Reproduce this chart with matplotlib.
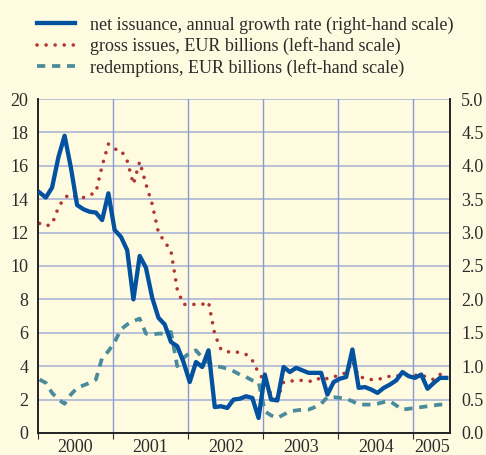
import numpy as np
import matplotlib
matplotlib.use("Agg")
import matplotlib.pyplot as plt

# monthly data, Jan 2000 - Jun 2005
net_growth = [14.4, 14.1, 14.7, 16.5, 17.8, 15.9, 13.65, 13.4, 13.25, 13.2, 12.75, 14.35,
              12.15, 11.75, 10.95, 8.0, 10.6, 9.9, 8.1, 6.9, 6.5, 5.45, 5.2, 4.25,
              3.05, 4.25, 3.95, 4.95, 1.55, 1.6, 1.5, 2.0, 2.05, 2.2, 2.1, 0.9,
              3.5, 2.0, 1.95, 3.95, 3.65, 3.9, 3.75, 3.6, 3.6, 3.6, 2.3, 3.05,
              3.25, 3.35, 5.0, 2.7, 2.75, 2.6, 2.4, 2.7, 2.9, 3.15, 3.65, 3.4,
              3.3, 3.5, 2.65, 3.0, 3.3, 3.3]
net_growth = [v / 4 for v in net_growth]

gross_issues = [12.55, 12.4, 12.5, 13.5, 14.1, 14.3, 14.1, 14.1, 14.25, 14.4, 16.0, 17.3,
                17.0, 16.95, 16.3, 14.9, 16.25, 14.9, 13.7, 12.0, 11.45, 10.9, 8.6, 7.7,
                7.7, 7.7, 7.7, 7.85, 5.9, 5.0, 4.85, 4.9, 4.8, 4.7, 4.35, 3.6,
                3.1, 2.3, 2.05, 3.05, 3.1, 3.15, 3.15, 3.1, 3.1, 3.35, 3.25, 3.35,
                3.5, 3.6, 4.3, 3.35, 3.3, 3.2, 3.2, 3.3, 3.4, 3.4, 3.5, 3.45,
                3.45, 3.5, 3.3, 3.2, 3.5, 3.65]

redemptions = [3.2, 3.0, 2.4, 2.0, 1.75, 2.3, 2.7, 2.85, 3.0, 3.2, 4.5, 4.9,
               5.45, 6.2, 6.5, 6.7, 6.85, 5.95, 5.9, 5.95, 5.95, 6.05, 4.0, 4.5,
               4.8, 4.95, 4.5, 4.2, 4.0, 3.95, 3.85, 3.7, 3.5, 3.35, 3.15, 3.05,
               1.3, 1.05, 0.9, 1.1, 1.3, 1.35, 1.4, 1.4, 1.55, 1.75, 2.15, 2.15,
               2.1, 2.05, 1.9, 1.7, 1.7, 1.7, 1.75, 1.85, 1.9, 1.65, 1.4, 1.45,
               1.5, 1.55, 1.6, 1.65, 1.7, 1.7]

years = ["2000", "2001", "2002", "2003", "2004", "2005"]

bg = "#fefbe0"
blue = "#0352a0"
red = "#b3362f"
teal = "#4a8c9c"
txt = "#2b2b2b"

plt.rcParams["font.family"] = ["Liberation Serif", "DejaVu Serif"]
plt.rcParams["font.size"] = 13

months = np.arange(len(net_growth))

fig = plt.figure(figsize=(4.86, 4.55), dpi=100, facecolor=bg)
ax = fig.add_axes([0.0782, 0.0484, 0.8478, 0.734], facecolor=bg)
ax2 = ax.twinx()

# grid
for v in range(0, 21, 2):
    ax.axhline(v, color="#b3bbd6", lw=1.3, zorder=0)
year_edges = [11.75, 23.75, 35.75, 47.75, 59.75]
for e in year_edges:
    ax.axvline(e, color="#8a9ad4", lw=1.0, zorder=0)

l2, = ax.plot(months, gross_issues, color=red, lw=2.6,
              linestyle=(0, (0.01, 2.5)), dash_capstyle="round",
              label="gross issues, EUR billions (left-hand scale)", zorder=3)
l3, = ax.plot(months, redemptions, color=teal, lw=2.7,
              linestyle=(0, (2.2, 1.8)),
              label="redemptions, EUR billions (left-hand scale)", zorder=3)
l1, = ax2.plot(months, net_growth, color=blue, lw=3.1,
               label="net issuance, annual growth rate (right-hand scale)", zorder=4)

ax.set_xlim(-0.25, 65.6)
ax.set_ylim(0, 20)
ax2.set_ylim(0, 5)
ax.set_yticks(range(0, 21, 2))
ax2.set_yticks(np.arange(0, 5.01, 0.5))
ax2.set_yticklabels([f"{v:.1f}" for v in np.arange(0, 5.01, 0.5)])

ax.set_xticks([-0.25] + year_edges)
ax.set_xticklabels([])
mids = [5.75, 17.75, 29.75, 41.75, 53.75, 62.7]
ax.set_xticks(mids, minor=True)
ax.set_xticklabels(years, minor=True)
ax.tick_params(axis="x", which="major", direction="out", length=4, color=txt)
ax.tick_params(axis="x", which="minor", length=0, pad=4, labelcolor=txt)
ax.tick_params(axis="y", length=0, pad=7, labelcolor=txt)
ax2.tick_params(axis="y", length=0, pad=8, labelcolor=txt)

for a in (ax, ax2):
    a.spines["top"].set_visible(False)
    for s in ("left", "right", "bottom"):
        a.spines[s].set_color("#222222")
        a.spines[s].set_linewidth(1.2)

fig.legend(handles=[l1, l2, l3], loc="upper left", bbox_to_anchor=(0.076, 0.964),
           frameon=False, borderpad=0, borderaxespad=0, handlelength=2.1,
           handletextpad=0.85, labelspacing=0.2, labelcolor=txt)

fig.savefig("out.png", dpi=100, facecolor=bg)
